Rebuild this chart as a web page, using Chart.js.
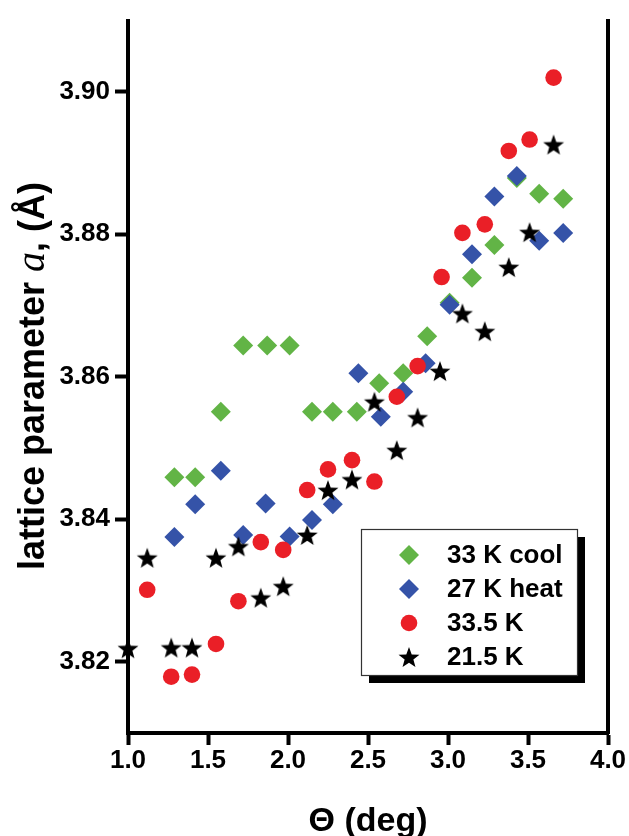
<!DOCTYPE html>
<html>
<head>
<meta charset="utf-8">
<script src="https://cdn.jsdelivr.net/npm/chart.js@4.4.1/dist/chart.umd.min.js"></script>
<style>
  html, body { margin: 0; padding: 0; background: #fff; }
  canvas { display: block; }
</style>
</head>
<body>
<canvas id="latticeChart" width="629" height="836"></canvas>
<script>
const seriesLabels = ['33 K cool', '27 K heat', '33.5 K', '21.5 K'];
const seriesColors = ['#62b446', '#3553a8', '#ea1f27', '#000000'];

// 33 K cool
const thetaCool = [1.29, 1.42, 1.58, 1.72, 1.87, 2.01, 2.15, 2.28, 2.43, 2.57, 2.72, 2.87, 3.01, 3.15, 3.29, 3.43, 3.57, 3.72];
const latCool   = [3.8459, 3.8459, 3.8551, 3.8644, 3.8644, 3.8644, 3.8551, 3.8551, 3.8551, 3.8591, 3.8605, 3.8657, 3.8704, 3.8739, 3.8785, 3.8879, 3.8857, 3.8850];

// 27 K heat
const thetaHeat = [1.29, 1.42, 1.58, 1.72, 1.86, 2.01, 2.15, 2.28, 2.44, 2.58, 2.72, 2.86, 3.01, 3.15, 3.29, 3.43, 3.57, 3.72];
const latHeat   = [3.8375, 3.8421, 3.8468, 3.8378, 3.8422, 3.8376, 3.8399, 3.8421, 3.8605, 3.8544, 3.8579, 3.8619, 3.8701, 3.8772, 3.8853, 3.8882, 3.8791, 3.8802];

// 33.5 K
const theta335 = [1.12, 1.27, 1.40, 1.55, 1.69, 1.83, 1.97, 2.12, 2.25, 2.40, 2.54, 2.68, 2.81, 2.96, 3.09, 3.23, 3.38, 3.51, 3.66];
const lat335   = [3.8301, 3.8179, 3.8182, 3.8225, 3.8285, 3.8368, 3.8357, 3.8441, 3.8470, 3.8483, 3.8453, 3.8572, 3.8615, 3.8740, 3.8802, 3.8814, 3.8917, 3.8933, 3.9020];

// 21.5 K
const theta215 = [1.00, 1.12, 1.27, 1.40, 1.55, 1.69, 1.83, 1.97, 2.12, 2.25, 2.40, 2.54, 2.68, 2.81, 2.95, 3.09, 3.23, 3.38, 3.51, 3.66];
const lat215   = [3.8219, 3.8346, 3.8220, 3.8220, 3.8346, 3.8362, 3.8290, 3.8306, 3.8378, 3.8441, 3.8456, 3.8565, 3.8497, 3.8543, 3.8608, 3.8689, 3.8664, 3.8754, 3.8803, 3.8926];

const xTicks = [1.0, 1.5, 2.0, 2.5, 3.0, 3.5, 4.0];
const yTicks = [3.82, 3.84, 3.86, 3.88, 3.90];

const fontSans = 'Arial, "Liberation Sans", sans-serif';
Chart.defaults.font.family = fontSans;
Chart.defaults.color = '#000';

function makeStar(outer, inner) {
    const size = Math.ceil(outer * 2) + 2;
    const c = document.createElement('canvas');
    c.width = size;
    c.height = size;
    const g = c.getContext('2d');
    g.translate(size / 2, size / 2 + outer * 0.1);
    g.beginPath();
    for (let i = 0; i < 10; i++) {
        const r = i % 2 ? inner : outer;
        const a = -Math.PI / 2 + i * Math.PI / 5;
        g.lineTo(r * Math.cos(a), r * Math.sin(a));
    }
    g.closePath();
    g.fillStyle = '#000';
    g.fill();
    return c;
}

const starImg = makeStar(11, 4.6);

function toPoints(xs, ys) {
    return xs.map((x, i) => ({ x: x, y: ys[i] }));
}

const markerStyles = ['rectRot', 'rectRot', 'circle', starImg];
const markerRadius = [10, 10, 8.3, 10];

function drawMarker(ctx, idx, x, y) {
    const style = markerStyles[idx];
    const r = markerRadius[idx];
    ctx.fillStyle = seriesColors[idx];
    if (style === 'rectRot') {
        ctx.beginPath();
        ctx.moveTo(x - r, y);
        ctx.lineTo(x, y - r);
        ctx.lineTo(x + r, y);
        ctx.lineTo(x, y + r);
        ctx.closePath();
        ctx.fill();
    } else if (style === 'circle') {
        ctx.beginPath();
        ctx.arc(x, y, r, 0, Math.PI * 2);
        ctx.fill();
    } else {
        ctx.drawImage(style, x - style.width / 2, y - style.height / 2);
    }
}

// legend box with drop shadow + axis titles
const extrasPlugin = {
    id: 'extras',
    afterDraw(chart) {
        const ctx = chart.ctx;
        ctx.save();

        // legend
        const bx = 361, by = 529, bw = 216, bh = 146;
        ctx.fillStyle = '#000';
        ctx.fillRect(bx + 8, by + 8, bw, bh);
        ctx.fillStyle = '#fff';
        ctx.fillRect(bx, by, bw, bh);
        ctx.strokeStyle = '#333';
        ctx.lineWidth = 1.2;
        ctx.strokeRect(bx + 0.5, by + 0.5, bw, bh);

        const rowY = [555, 589, 623, 657];
        ctx.font = 'bold 26px ' + fontSans;
        ctx.textBaseline = 'middle';
        ctx.textAlign = 'left';
        seriesLabels.forEach((lab, i) => {
            drawMarker(ctx, i, 409, rowY[i]);
            ctx.fillStyle = '#000';
            ctx.fillText(lab, 447, rowY[i] + 1);
        });

        // x title
        ctx.font = 'bold 34px ' + fontSans;
        ctx.textAlign = 'center';
        ctx.textBaseline = 'alphabetic';
        ctx.fillStyle = '#000';
        const area = chart.chartArea;
        ctx.fillText('\u0398 (deg)', (area.left + area.right) / 2, 831);

        // y title, mixed fonts
        const parts = [
            { t: 'lattice parameter ', f: 'bold 36px ' + fontSans },
            { t: 'a', f: 'italic 40px "Liberation Serif", "Times New Roman", serif' },
            { t: ', (\u00c5)', f: 'bold 36px ' + fontSans }
        ];
        let total = 0;
        parts.forEach(p => { ctx.font = p.f; p.w = ctx.measureText(p.t).width; total += p.w; });
        ctx.translate(44, 376);
        ctx.rotate(-Math.PI / 2);
        ctx.textAlign = 'left';
        let cx = -total / 2;
        parts.forEach(p => {
            ctx.font = p.f;
            ctx.fillText(p.t, cx, 0);
            cx += p.w;
        });

        ctx.restore();
    }
};

const datasetsList = [
    [thetaCool, latCool],
    [thetaHeat, latHeat],
    [theta335, lat335],
    [theta215, lat215]
].map((s, i) => ({
    label: seriesLabels[i],
    data: toPoints(s[0], s[1]),
    pointStyle: markerStyles[i],
    pointRadius: markerRadius[i],
    pointHoverRadius: markerRadius[i],
    pointBackgroundColor: seriesColors[i],
    pointBorderWidth: 0,
    pointBorderColor: seriesColors[i],
    showLine: false,
    clip: false,
    order: 4 - i
}));

const tickFont = { size: 26, weight: 'bold' };

new Chart(document.getElementById('latticeChart').getContext('2d'), {
    type: 'scatter',
    data: { datasets: datasetsList },
    options: {
        responsive: false,
        animation: false,
        devicePixelRatio: 1,
        layout: { padding: { top: 7, left: 0, right: 0, bottom: 0 } },
        plugins: {
            legend: { display: false },
            tooltip: { enabled: false }
        },
        scales: {
            x: {
                type: 'linear',
                min: 1,
                max: 4,
                afterBuildTicks: s => { s.ticks = xTicks.map(v => ({ value: v })); },
                afterFit: s => { s.height = 103; },
                ticks: {
                    color: '#000',
                    font: tickFont,
                    padding: 0,
                    maxRotation: 0,
                    autoSkip: false,
                    callback: v => v.toFixed(1)
                },
                grid: { display: true, drawOnChartArea: false, drawTicks: true, tickLength: 12, tickWidth: 4, tickColor: '#000' },
                border: { display: true, width: 4, color: '#000' }
            },
            y: {
                type: 'linear',
                position: 'left',
                min: 3.81,
                max: 3.91,
                afterBuildTicks: s => { s.ticks = yTicks.map(v => ({ value: v })); },
                afterFit: s => { s.width = 128; },
                ticks: {
                    color: '#000',
                    font: tickFont,
                    padding: 5,
                    autoSkip: false,
                    callback: v => v.toFixed(2)
                },
                grid: { display: true, drawOnChartArea: false, drawTicks: true, tickLength: 13, tickWidth: 4, tickColor: '#000' },
                border: { display: true, width: 4, color: '#000' }
            },
            yRight: {
                type: 'linear',
                position: 'right',
                min: 3.81,
                max: 3.91,
                afterFit: s => { s.width = 21; },
                ticks: { display: false },
                grid: { display: false, drawTicks: false },
                border: { display: true, width: 4, color: '#000' }
            }
        }
    },
    plugins: [extrasPlugin]
});
</script>
</body>
</html>
